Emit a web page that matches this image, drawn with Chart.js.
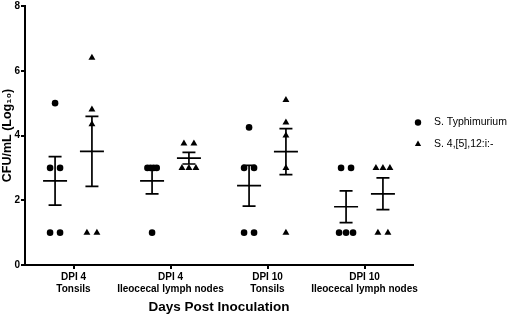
<!DOCTYPE html>
<html>
<head>
<meta charset="utf-8">
<script src="https://cdn.jsdelivr.net/npm/chart.js@4.4.0/dist/chart.umd.min.js"></script>
<style>
  html, body { margin: 0; padding: 0; background: #fff; }
  #wrap { width: 510px; height: 317px; }
</style>
</head>
<body>
<div id="wrap"><canvas id="cfuChart"></canvas></div>
<script>
// values (log10 CFU/mL)
const groups = [['DPI 4', 'Tonsils'], ['DPI 4', 'Ileocecal lymph nodes'], ['DPI 10', 'Tonsils'], ['DPI 10', 'Ileocecal lymph nodes']];
const seriesNames = ['S. Typhimurium', 'S. 4,[5],12:i:-'];
const typhimuriumValues = [[5, 3, 3, 1, 1], [3, 3, 3, 3, 1], [4.25, 3, 3, 1, 1], [3, 3, 1, 1, 1]];
const monophasicValues = [[6.4, 4.8, 4.35, 1, 1], [3.75, 3.75, 3, 3, 3], [5.1, 4.4, 4.0, 3.0, 1], [3, 3, 3, 1, 1]];
const typhimuriumMean = [2.6, 2.6, 2.45, 1.8];
const typhimuriumSem = [0.75, 0.4, 0.63, 0.49];
const monophasicMean = [3.51, 3.3, 3.5, 2.2];
const monophasicSem = [1.08, 0.18, 0.71, 0.49];
const yTicks = [0, 2, 4, 6, 8];

const FONT = 'Arial, "Liberation Sans", Helvetica, sans-serif';
const seriesOffset = [-0.19, 0.19];
// horizontal spread of tied values, like the prism scatter
const spreadStep = { 1: 0, 2: 0.103, 3: 0.072, 4: 0.032 };

function spreadPoints(allValues, offset) {
  var points = [];
  allValues.forEach((values, g) => {
    values.forEach((v, i) => {
      var n = values.filter(w => w === v).length;
      var rank = values.slice(0, i).filter(w => w === v).length;
      var step = spreadStep[n] !== undefined ? spreadStep[n] : 0.03;
      points.push({ x: g + offset + (rank - (n - 1) / 2) * step, y: v });
    });
  });
  return points;
}

// mean line + SEM whiskers, drawn through the chart scales
const errorBarPlugin = {
  id: 'meanSem',
  afterDatasetsDraw(chart) {
    var ctx = chart.ctx;
    var xs = chart.scales.x, ys = chart.scales.y;
    var sets = [[typhimuriumMean, typhimuriumSem], [monophasicMean, monophasicSem]];
    ctx.save();
    ctx.strokeStyle = '#000';
    ctx.lineWidth = 1.7;
    sets.forEach((set, s) => {
      set[0].forEach((mean, g) => {
        var cx = xs.getPixelForValue(g + seriesOffset[s]);
        var yMean = ys.getPixelForValue(mean);
        var yTop = ys.getPixelForValue(mean + set[1][g]);
        var yBot = ys.getPixelForValue(mean - set[1][g]);
        ctx.beginPath();
        ctx.moveTo(cx, yTop); ctx.lineTo(cx, yBot);
        ctx.moveTo(cx - 6.5, yTop); ctx.lineTo(cx + 6.5, yTop);
        ctx.moveTo(cx - 6.5, yBot); ctx.lineTo(cx + 6.5, yBot);
        ctx.moveTo(cx - 12, yMean); ctx.lineTo(cx + 12, yMean);
        ctx.stroke();
      });
    });
    ctx.restore();
  }
};

// legend to the right of the plot, a bit above its middle
const sideLegendPlugin = {
  id: 'sideLegend',
  afterDraw(chart) {
    var ctx = chart.ctx;
    var area = chart.chartArea;
    var x0 = area.right + 5;
    var y0 = (area.top + area.bottom) / 2 - 13;
    ctx.save();
    ctx.font = '10.5px ' + FONT;
    ctx.textBaseline = 'middle';
    chart.data.datasets.forEach((ds, i) => {
      var y = y0 + i * 21.6;
      ctx.fillStyle = ds.backgroundColor;
      ctx.strokeStyle = ds.borderColor;
      Chart.helpers.drawPoint(ctx, { pointStyle: ds.pointStyle, radius: ds.pointStyle === 'triangle' ? 3.6 : 3.2, rotation: 0, borderWidth: 0 }, x0, y);
      ctx.fillStyle = '#000';
      ctx.fillText(ds.label, x0 + 16, y);
    });
    ctx.restore();
  }
};

var canvas = document.getElementById('cfuChart');
var chart = new Chart(canvas, {
  type: 'scatter',
  data: {
    datasets: [{
      label: seriesNames[0],
      data: spreadPoints(typhimuriumValues, seriesOffset[0]),
      pointStyle: 'circle',
      pointRadius: 3.3,
      backgroundColor: '#000',
      borderColor: '#000',
      borderWidth: 0,
    }, {
      label: seriesNames[1],
      data: spreadPoints(monophasicValues, seriesOffset[1]),
      pointStyle: 'triangle',
      pointRadius: 4,
      backgroundColor: '#000',
      borderColor: '#000',
      borderWidth: 0,
    }],
  },
  options: {
    responsive: true,
    maintainAspectRatio: false,
    animation: false,
    layout: { padding: { top: 0, right: 97, left: 0, bottom: 0 } },
    plugins: {
      tooltip: { enabled: false },
      legend: { display: false },
    },
    scales: {
      x: {
        type: 'linear',
        min: -0.5,
        max: 3.5,
        afterBuildTicks: axis => { axis.ticks = groups.map((g, i) => ({ value: i })); },
        afterFit: axis => { axis.height = 52; },
        ticks: {
          color: '#000',
          font: { family: FONT, size: 10, weight: 'bold' },
          padding: 2,
          maxRotation: 0,
          callback: value => groups[value],
        },
        grid: { drawOnChartArea: false, drawTicks: true, tickLength: 4, color: '#000', lineWidth: 2 },
        border: { color: '#000', width: 2 },
        title: {
          display: true,
          text: 'Days Post Inoculation',
          color: '#000',
          font: { family: FONT, size: 13.5, weight: 'bold' },
          padding: { top: 0, bottom: 2 },
        },
      },
      y: {
        min: 0,
        max: 8,
        afterBuildTicks: axis => { axis.ticks = yTicks.map(v => ({ value: v })); },
        afterFit: axis => { axis.width = 25; },
        ticks: {
          color: '#000',
          font: { family: FONT, size: 10, weight: 'bold', lineHeight: 1 },
          padding: 1,
        },
        grid: { drawOnChartArea: false, drawTicks: true, tickLength: 4, color: '#000', lineWidth: 2 },
        border: { color: '#000', width: 2 },
        title: {
          display: true,
          text: 'CFU/mL (Log₁₀)',
          color: '#000',
          font: { family: FONT, size: 12.5, weight: 'bold' },
          padding: { top: 0, bottom: 0 },
        },
      },
    },
  },
  plugins: [errorBarPlugin, sideLegendPlugin],
});
</script>
</body>
</html>
